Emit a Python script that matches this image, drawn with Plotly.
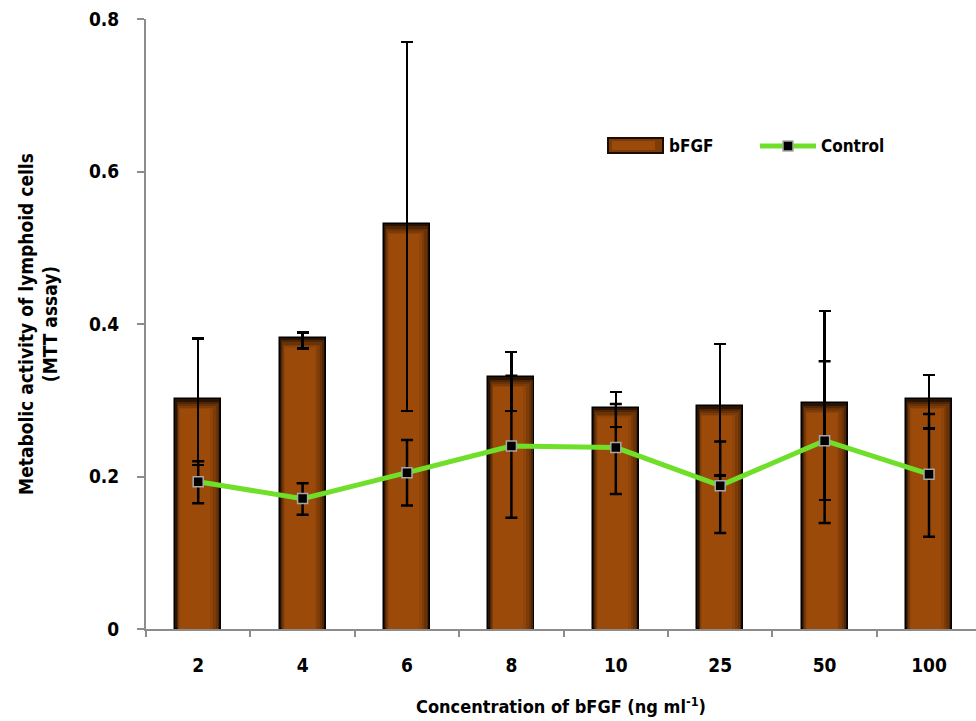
import plotly.graph_objects as go

# ---- data ----
categories = ["2", "4", "6", "8", "10", "25", "50", "100"]
bfgf = [0.301, 0.382, 0.531, 0.330, 0.290, 0.292, 0.296, 0.301]
bfgf_err_plus = [0.080, 0.007, 0.239, 0.033, 0.021, 0.082, 0.121, 0.032]
bfgf_err_minus = [0.086, 0.014, 0.245, 0.044, 0.025, 0.091, 0.127, 0.038]
control = [0.193, 0.171, 0.205, 0.240, 0.238, 0.188, 0.247, 0.203]
control_err_plus = [0.027, 0.020, 0.043, 0.092, 0.057, 0.058, 0.104, 0.079]
control_err_minus = [0.028, 0.021, 0.043, 0.094, 0.061, 0.062, 0.108, 0.082]
y_ticks = [0, 0.2, 0.4, 0.6, 0.8]
y_ticktext = ["0", "0.2", "0.4", "0.6", "0.8"]

FONT = "DejaVu Sans Condensed, Liberation Sans Narrow, Arial Narrow, sans-serif"
BAR_W = 0.44

fig = go.Figure()

# layered bars to imitate the shaded (gradient) bar look
# (start fraction, end fraction, colour, top inset)
strips = [
    (0.00, 1.00, "#2a1303", 0.0),
    (0.03, 0.96, "#4e2505", 0.003),
    (0.05, 0.93, "#6a3207", 0.006),
    (0.07, 0.88, "#7d3b08", 0.009),
    (0.09, 0.82, "#8f4409", 0.011),
    (0.11, 0.76, "#9b4a0a", 0.013),
]
for i, (s, e, col, inset) in enumerate(strips):
    first = i == 0
    fig.add_trace(go.Bar(
        x=categories,
        y=[v - inset for v in bfgf],
        width=BAR_W * (e - s),
        offset=-BAR_W / 2 + BAR_W * s,
        marker=dict(color=col, line=dict(color="#000000", width=1.5 if first else 0)),
        showlegend=False,
        hoverinfo="skip" if not first else None,
        name="bFGF",
    ))

# error bars for bFGF (drawn on an invisible bar so they sit on the bar centres)
fig.add_trace(go.Bar(
    x=categories, y=bfgf, width=BAR_W, offset=-BAR_W / 2,
    marker=dict(color="rgba(0,0,0,0)", line=dict(width=0)),
    error_y=dict(type="data", symmetric=False, array=bfgf_err_plus,
                 arrayminus=bfgf_err_minus, color="#000000", thickness=2.5, width=6),
    showlegend=False, name="bFGF",
))

fig.add_trace(go.Scatter(
    x=categories, y=control, mode="lines+markers", name="Control",
    line=dict(color="#6fdf2a", width=5),
    marker=dict(symbol="square", size=10, color="#000000",
                line=dict(color="#a8a8a8", width=1.5)),
    error_y=dict(type="data", symmetric=False, array=control_err_plus,
                 arrayminus=control_err_minus, color="#000000", thickness=2.5, width=6),
    showlegend=False,
))

# custom legend
def px_x(px):
    return (px - 146) / 830

def px_y(py):
    return (629 - py) / 610

fig.add_shape(type="rect", xref="paper", yref="paper",
              x0=px_x(608), x1=px_x(663), y0=px_y(153), y1=px_y(138),
              fillcolor="#7d3b08", line=dict(color="#1a0c02", width=2))
fig.add_shape(type="rect", xref="paper", yref="paper",
              x0=px_x(612), x1=px_x(655), y0=px_y(150), y1=px_y(141),
              fillcolor="#9b4a0a", line=dict(width=0))
fig.add_shape(type="line", xref="paper", yref="paper",
              x0=px_x(760), x1=px_x(816), y0=px_y(146), y1=px_y(146),
              line=dict(color="#6fdf2a", width=5))
fig.add_shape(type="rect", xref="paper", yref="paper",
              x0=px_x(783), x1=px_x(793), y0=px_y(151), y1=px_y(141),
              fillcolor="#000000", line=dict(color="#a8a8a8", width=1.5))
fig.add_annotation(text="<b>bFGF</b>", xref="paper", yref="paper", x=px_x(667), y=px_y(146),
                   xanchor="left", yanchor="middle", showarrow=False,
                   font=dict(family=FONT, size=17, color="#000000"))
fig.add_annotation(text="<b>Control</b>", xref="paper", yref="paper", x=px_x(819), y=px_y(146),
                   xanchor="left", yanchor="middle", showarrow=False,
                   font=dict(family=FONT, size=17, color="#000000"))

fig.update_layout(
    width=976, height=721,
    margin=dict(l=146, r=0, t=19, b=92),
    paper_bgcolor="white", plot_bgcolor="white",
    barmode="overlay", bargap=0,
    font=dict(family=FONT, size=19, color="#000000"),
    showlegend=False,
    xaxis=dict(
        type="category", range=[-0.5, 7.45],
        showline=True, linecolor="#8c8c8c", linewidth=2,
        ticks="outside", tickson="boundaries", ticklen=6, tickcolor="#8c8c8c", tickwidth=1.5,
        ticklabelstandoff=18,
        tickfont=dict(family=FONT, size=19, color="#000000", weight="bold"),
        showgrid=False, zeroline=False,
        title=dict(text="<b>Concentration of bFGF (ng ml<sup>-1</sup>)</b>",
                   font=dict(family=FONT, size=18, color="#000000"), standoff=26),
    ),
    yaxis=dict(
        range=[0, 0.8], tickvals=y_ticks, ticktext=y_ticktext,
        showline=True, linecolor="#8c8c8c", linewidth=2,
        ticks="outside", ticklen=7, tickcolor="#8c8c8c", tickwidth=1.5,
        ticklabelstandoff=14,
        tickfont=dict(family=FONT, size=19, color="#000000", weight="bold"),
        showgrid=False, zeroline=False,
        title=dict(text="<b>Metabolic activity of lymphoid cells<br>(MTT assay)</b>",
                   font=dict(family=FONT, size=19, color="#000000"), standoff=26),
    ),
)

fig.write_html("out.html")
